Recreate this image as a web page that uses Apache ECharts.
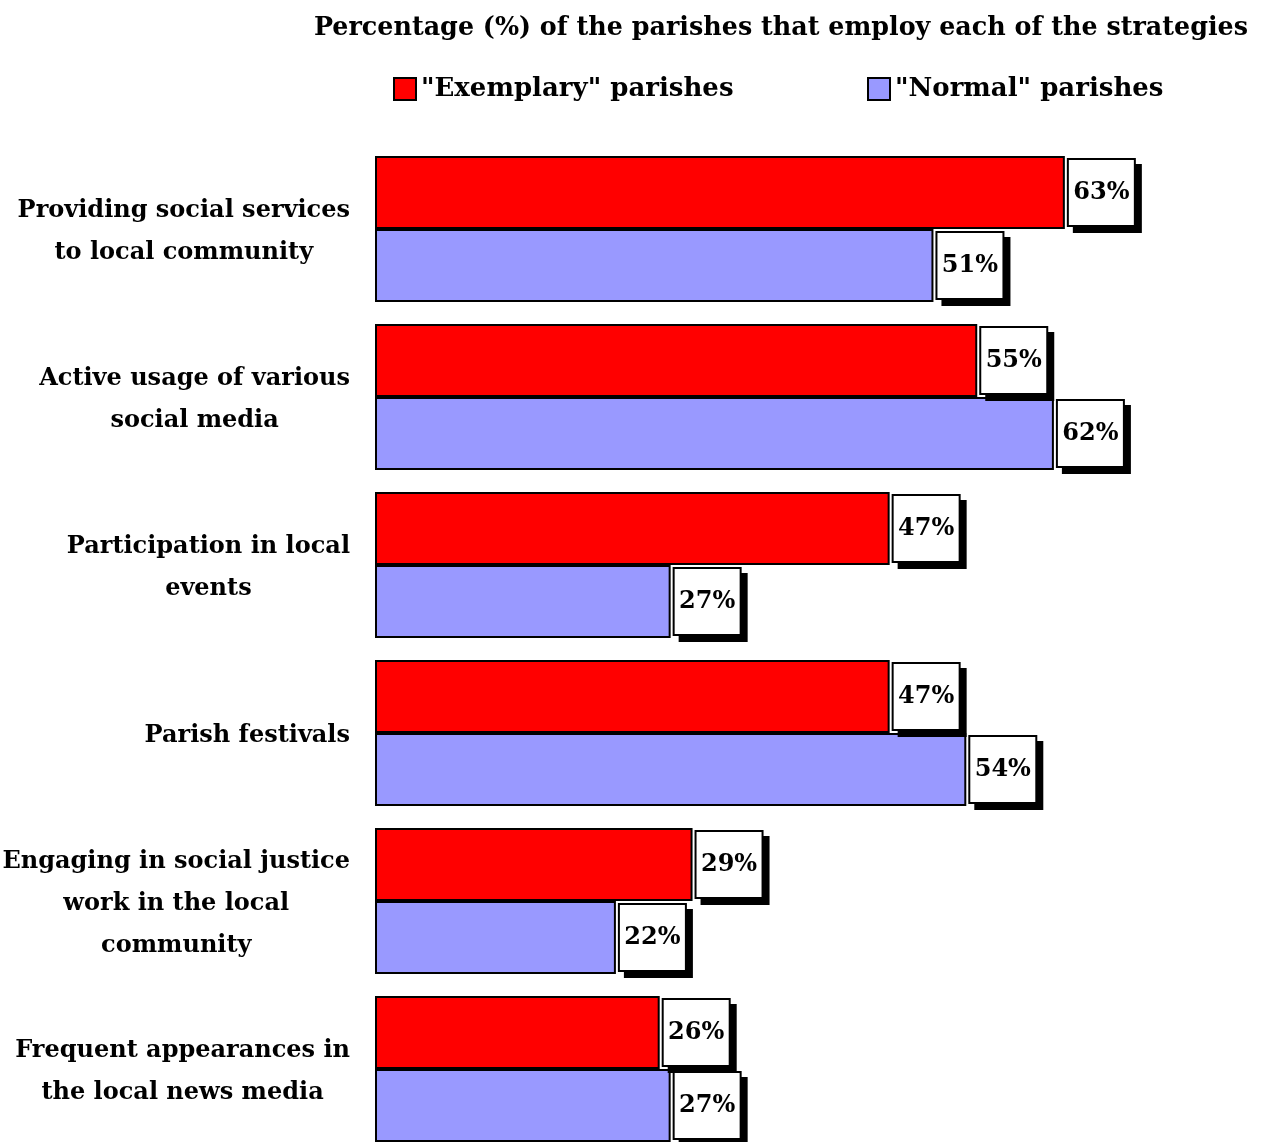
<!DOCTYPE html>
<html>
<head>
<meta charset="utf-8">
<script src="https://cdn.jsdelivr.net/npm/echarts@6/dist/echarts.min.js"></script>
<style>
  html, body { margin: 0; padding: 0; background: #fff; }
  #chart { width: 1261px; height: 1142px; }
</style>
</head>
<body>
<div id="chart"></div>
<script>
// Strategies (top to bottom)
const categories = [
  'Providing social services\nto local community',
  'Active usage of various\nsocial media',
  'Participation in local\nevents',
  'Parish festivals',
  'Engaging in social justice\nwork in the local\ncommunity',
  'Frequent appearances in\nthe local news media'
];
const seriesNames = ['"Exemplary" parishes', '"Normal" parishes'];
const exemplary = [63, 55, 47, 47, 29, 26];
const normal = [51, 62, 27, 54, 22, 27];
const titleText = 'Percentage (%) of the parishes that employ each of the strategies';

const FONT = '"DejaVu Serif", "Liberation Serif", serif';

// White value boxes with a hard black drop shadow
const valueLabel = {
  show: true,
  position: 'right',
  distance: 4,
  formatter: '{v|{c}%}',
  rich: {
    v: {
      width: 55,
      align: 'center',
      fontFamily: FONT,
      fontWeight: 'bold',
      fontSize: 24,
      lineHeight: 27,
      color: '#000'
    }
  },
  backgroundColor: '#fff',
  borderColor: '#000',
  borderWidth: 2,
  padding: [19, 5, 19, 5],
  shadowColor: '#000',
  shadowBlur: 0,
  shadowOffsetX: 6,
  shadowOffsetY: 6
};

const legendText = { fontFamily: FONT, fontWeight: 'bold', fontSize: 26, color: '#000' };

const chart = echarts.init(document.getElementById('chart'), null, { renderer: 'canvas' });
chart.setOption({
  animation: false,
  backgroundColor: '#fff',
  textStyle: { fontFamily: FONT },
  title: {
    text: titleText,
    right: 8,
    top: 11,
    textStyle: { fontFamily: FONT, fontWeight: 'bold', fontSize: 25.4, color: '#000' }
  },
  legend: [
    {
      data: [seriesNames[0]],
      left: 388, top: 71,
      itemWidth: 22, itemHeight: 22,
      itemGap: 6,
      icon: 'rect',
      textStyle: legendText
    },
    {
      data: [seriesNames[1]],
      left: 862, top: 71,
      itemWidth: 22, itemHeight: 22,
      icon: 'rect',
      textStyle: legendText
    }
  ],
  grid: { left: 375, top: 145, width: 766.5, height: 1008, outerBoundsMode: 'none', containLabel: false },
  xAxis: {
    type: 'value',
    min: 0, max: 70,
    show: false
  },
  yAxis: {
    type: 'category',
    data: categories,
    inverse: true,
    axisLine: { show: false },
    axisTick: { show: false },
    splitLine: { show: false },
    axisLabel: {
      margin: 25,
      padding: [6, 0, 0, 0],
      formatter: v => v.split('\n').map(s => '{a|' + s + '}').join('\n'),
      rich: {
        a: {
          align: 'center',
          fontFamily: FONT, fontWeight: 'bold', fontSize: 24, lineHeight: 42, color: '#000'
        }
      }
    }
  },
  series: [
    {
      name: seriesNames[0],
      type: 'bar',
      data: exemplary,
      barGap: '0%',
      barCategoryGap: '13%',
      itemStyle: { color: '#ff0000', borderColor: '#000', borderWidth: 2 },
      label: valueLabel
    },
    {
      name: seriesNames[1],
      type: 'bar',
      data: normal,
      barGap: '0%',
      barCategoryGap: '13%',
      itemStyle: { color: '#9999ff', borderColor: '#000', borderWidth: 2 },
      label: valueLabel
    }
  ]
});
</script>
</body>
</html>
